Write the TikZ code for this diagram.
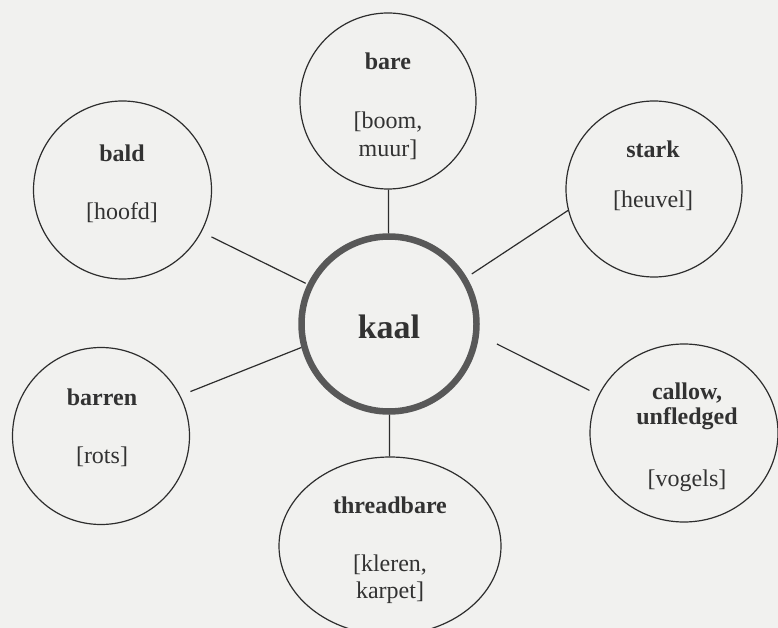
\documentclass[tikz,border=0pt]{standalone}
\usepackage{fontspec}
\setmainfont{Liberation Serif}
\usetikzlibrary{shapes.geometric}
\definecolor{bgc}{RGB}{241,241,239}
\definecolor{ink}{RGB}{45,45,45}
\definecolor{txt}{RGB}{50,50,50}
\definecolor{ringc}{RGB}{88,88,88}
\begin{document}
\begin{tikzpicture}[x=1pt,y=-1pt,
  leaf/.style={circle,draw=ink,line width=1.2pt,inner sep=0pt,minimum size=#1},
  oval/.style={ellipse,draw=ink,line width=1.2pt,inner sep=0pt},
  hub/.style={circle,draw=ringc,line width=6.5pt,fill=bgc,inner sep=0pt,minimum size=175pt},
  link/.style={draw=ink,line width=1.2pt},
  ttl/.style={font=\fontsize{24}{28}\selectfont\bfseries,text=txt,anchor=base,inner sep=0pt},
  sub/.style={font=\fontsize{24}{28}\selectfont,text=txt,anchor=base,inner sep=0pt},
  big/.style={font=\fontsize{34}{40}\selectfont\bfseries,text=txt,anchor=base,inner sep=0pt}]
\fill[bgc] (0,0) rectangle (778,628);
\useasboundingbox (0,0) rectangle (778,628);
\clip (0,0) rectangle (778,628);

% outer nodes
\node[leaf=176pt] (bare) at (388,101) {};
\node[leaf=178pt] (bald) at (122.5,190) {};
\node[leaf=176pt] (stark) at (654,189) {};
\node[leaf=177pt] (barren) at (101,436) {};
\node[oval,minimum width=188pt,minimum height=178pt] (callow) at (684,433) {};
\node[oval,minimum width=222pt,minimum height=178pt] (threadbare) at (390,546) {};
\node[hub] (kaal) at (389,324) {};

% connectors
\draw[link] (bare) -- (kaal);
\draw[link] (kaal) -- (threadbare);
\draw[link,shorten <=2pt,shorten >=11pt] (kaal.154) -- (bald.-28);
\draw[link,shorten <=6pt] (kaal.31) -- (stark.194);
\draw[link,shorten >=10.8pt] (kaal.195) -- (barren.27);
\draw[link,shorten <=20pt,shorten >=10pt] (kaal.-7) -- (callow.156);

% texts
\node[big] (tkaal) at (389,338) {kaal};
\node[ttl] (tbare) at (388,70) {bare};
\node[sub] (sbare1) at (388,129) {[boom,};
\node[sub] (sbare2) at (388,157) {muur]};
\node[ttl] (tbald) at (122,162) {bald};
\node[sub] (sbald) at (122,219) {[hoofd]};
\node[ttl] (tstark) at (653,158) {stark};
\node[sub] (sstark) at (653,208) {[heuvel]};
\node[ttl] (tbarren) at (102,405) {barren};
\node[sub] (sbarren) at (102,463) {[rots]};
\node[ttl] (tcallow1) at (687,399) {callow,};
\node[ttl] (tcallow2) at (687,424) {unfledged};
\node[sub] (scallow) at (687,486) {[vogels]};
\node[ttl] (tthread) at (390,513) {threadbare};
\node[sub] (sthread1) at (390,571) {[kleren,};
\node[sub] (sthread2) at (390,598) {karpet]};
\end{tikzpicture}
\end{document}
